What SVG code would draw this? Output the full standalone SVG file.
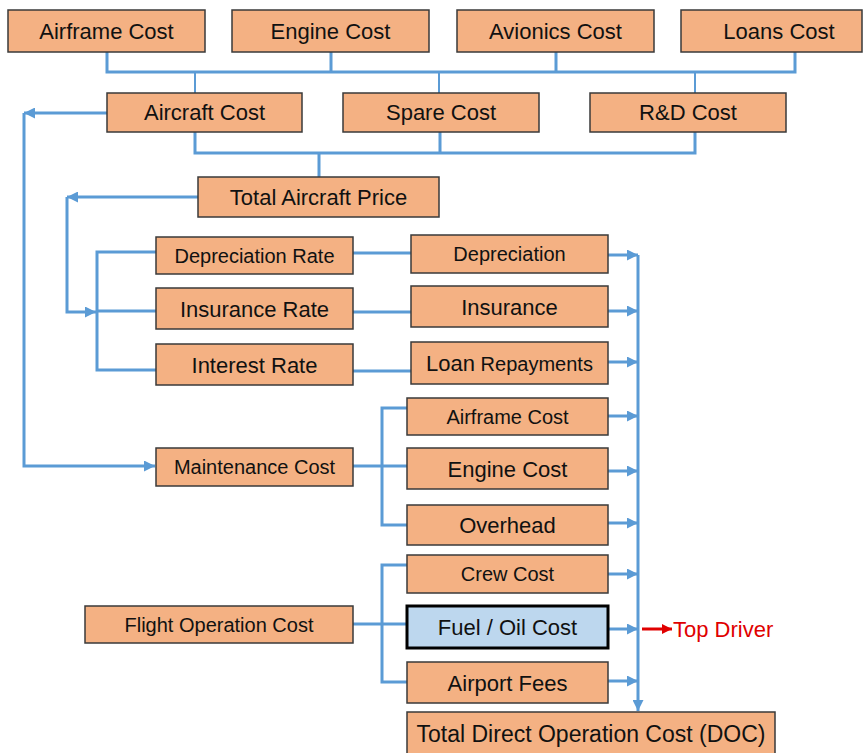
<svg xmlns="http://www.w3.org/2000/svg" width="864" height="753" viewBox="0 0 864 753">
<style>
.box{fill:#F4B183;stroke:#3a3a3a;stroke-width:1.5}
.hl{fill:#BDD7EE;stroke:#000;stroke-width:3}
text{font-family:"Liberation Sans",Arial,sans-serif;fill:#111;text-anchor:middle}
.l{font-size:22px}
.s{font-size:20px}
.c{fill:none;stroke:#5B9BD5;stroke-width:3}
.t{fill:none;stroke:#5B9BD5;stroke-width:2}
</style>
<defs>
<marker id="a" markerUnits="userSpaceOnUse" markerWidth="11" markerHeight="11" viewBox="0 0 10 10" refX="10" refY="5" orient="auto"><path d="M0,0 L10,5 L0,10 z" fill="#5B9BD5"/></marker>
<marker id="r" markerUnits="userSpaceOnUse" markerWidth="10" markerHeight="10" viewBox="0 0 10 10" refX="10" refY="5" orient="auto"><path d="M0,0 L10,5 L0,10 z" fill="#E00000"/></marker>
</defs>
<g id="connectors">
<path class="c" d="M107,52 V72 H795 V52 M331,52 V72 M556,52 V72"/>
<path class="t" d="M195,72 V93 M439,72 V93 M695,72 V93"/>
<path class="c" d="M195,132 V153 H695 V132 M440,132 V153 M319,153 V177"/>
<path class="c" d="M107,113 H24" marker-end="url(#a)"/>
<path class="c" d="M24,113 V466 H155" marker-end="url(#a)"/>
<path class="c" d="M198,197 H67" marker-end="url(#a)"/>
<path class="c" d="M67,197 V312 H96" marker-end="url(#a)"/>
<path class="c" d="M156,252 H97 V370 H156 M97,311 H156"/>
<path class="c" d="M353,253 H411 M353,312 H411 M353,371 H411"/>
<path class="c" d="M353,466 H407 M407,408 H382 V525 H407"/>
<path class="c" d="M353,624 H407 M407,565 H382 V682 H407"/>
<path class="c" d="M608,255 H638" marker-end="url(#a)"/>
<path class="c" d="M608,311 H638" marker-end="url(#a)"/>
<path class="c" d="M608,362 H638" marker-end="url(#a)"/>
<path class="c" d="M608,416 H638" marker-end="url(#a)"/>
<path class="c" d="M608,471 H638" marker-end="url(#a)"/>
<path class="c" d="M608,523 H638" marker-end="url(#a)"/>
<path class="c" d="M608,574 H638" marker-end="url(#a)"/>
<path class="c" d="M609,629 H638" marker-end="url(#a)"/>
<path class="c" d="M608,681 H638" marker-end="url(#a)"/>
<path class="c" d="M638,255 V711" marker-end="url(#a)"/>
<path d="M642,629 H672" fill="none" stroke="#E00000" stroke-width="3" marker-end="url(#r)"/>
</g>
<g id="airframe"><rect class="box" x="8" y="10" width="197" height="42"/><text class="l" x="106.5" y="39">Airframe Cost</text></g>
<g id="engine"><rect class="box" x="232" y="10" width="197" height="42"/><text class="l" x="330.5" y="39">Engine Cost</text></g>
<g id="avionics"><rect class="box" x="457" y="10" width="197" height="42"/><text class="l" x="555.5" y="39">Avionics Cost</text></g>
<g id="loans"><rect class="box" x="681" y="10" width="181" height="42"/><text class="l" x="779" y="39">Loans Cost</text></g>
<g id="aircraft"><rect class="box" x="107" y="93" width="195" height="39"/><text class="l" x="204.5" y="120">Aircraft Cost</text></g>
<g id="spare"><rect class="box" x="343" y="93" width="196" height="39"/><text class="l" x="441" y="120">Spare Cost</text></g>
<g id="rnd"><rect class="box" x="590" y="93" width="196" height="39"/><text class="l" x="688" y="120">R&amp;D Cost</text></g>
<g id="total-price"><rect class="box" x="198" y="177" width="241" height="40"/><text class="l" x="318.5" y="205">Total Aircraft Price</text></g>
<g id="dep-rate"><rect class="box" x="156" y="237" width="197" height="37"/><text class="s" x="254.5" y="262.5">Depreciation Rate</text></g>
<g id="ins-rate"><rect class="box" x="156" y="288" width="197" height="41"/><text class="l" x="254.5" y="316.5">Insurance Rate</text></g>
<g id="int-rate"><rect class="box" x="156" y="344" width="197" height="41"/><text class="l" x="254.5" y="372.5">Interest Rate</text></g>
<g id="maint"><rect class="box" x="156" y="448" width="197" height="38"/><text class="s" x="254.5" y="474">Maintenance Cost</text></g>
<g id="flight"><rect class="box" x="85" y="606" width="268" height="37"/><text class="s" x="219" y="631.5">Flight Operation Cost</text></g>
<g id="depreciation"><rect class="box" x="411" y="235" width="197" height="38"/><text class="s" x="509.5" y="261">Depreciation</text></g>
<g id="insurance"><rect class="box" x="411" y="286" width="197" height="41"/><text class="l" x="509.5" y="314.5">Insurance</text></g>
<g id="loan-rep"><rect class="box" x="411" y="342" width="197" height="42"/><text x="509.5" y="371"><tspan class="l">Loan</tspan><tspan class="s"> Repayments</tspan></text></g>
<g id="airframe2"><rect class="box" x="407" y="398" width="201" height="37"/><text class="s" x="507.5" y="423.5">Airframe Cost</text></g>
<g id="engine2"><rect class="box" x="407" y="448" width="201" height="41"/><text class="l" x="507.5" y="476.5">Engine Cost</text></g>
<g id="overhead"><rect class="box" x="407" y="505" width="201" height="40"/><text class="l" x="507.5" y="533">Overhead</text></g>
<g id="crew"><rect class="box" x="407" y="555" width="201" height="38"/><text class="s" x="507.5" y="581">Crew Cost</text></g>
<g id="fuel"><rect class="hl" x="407" y="606" width="201" height="42"/><text class="l" x="507.5" y="635">Fuel / Oil Cost</text></g>
<g id="airport"><rect class="box" x="407" y="662" width="201" height="41"/><text class="l" x="507.5" y="690.5">Airport Fees</text></g>
<g id="doc"><rect class="box" x="407" y="712" width="368" height="45"/><text x="591" y="742" style="font-size:23px">Total Direct Operation Cost (DOC)</text></g>
<g id="top-driver"><text x="673" y="637" style="font-size:22px;fill:#E00000;text-anchor:start">Top Driver</text></g>
</svg>
